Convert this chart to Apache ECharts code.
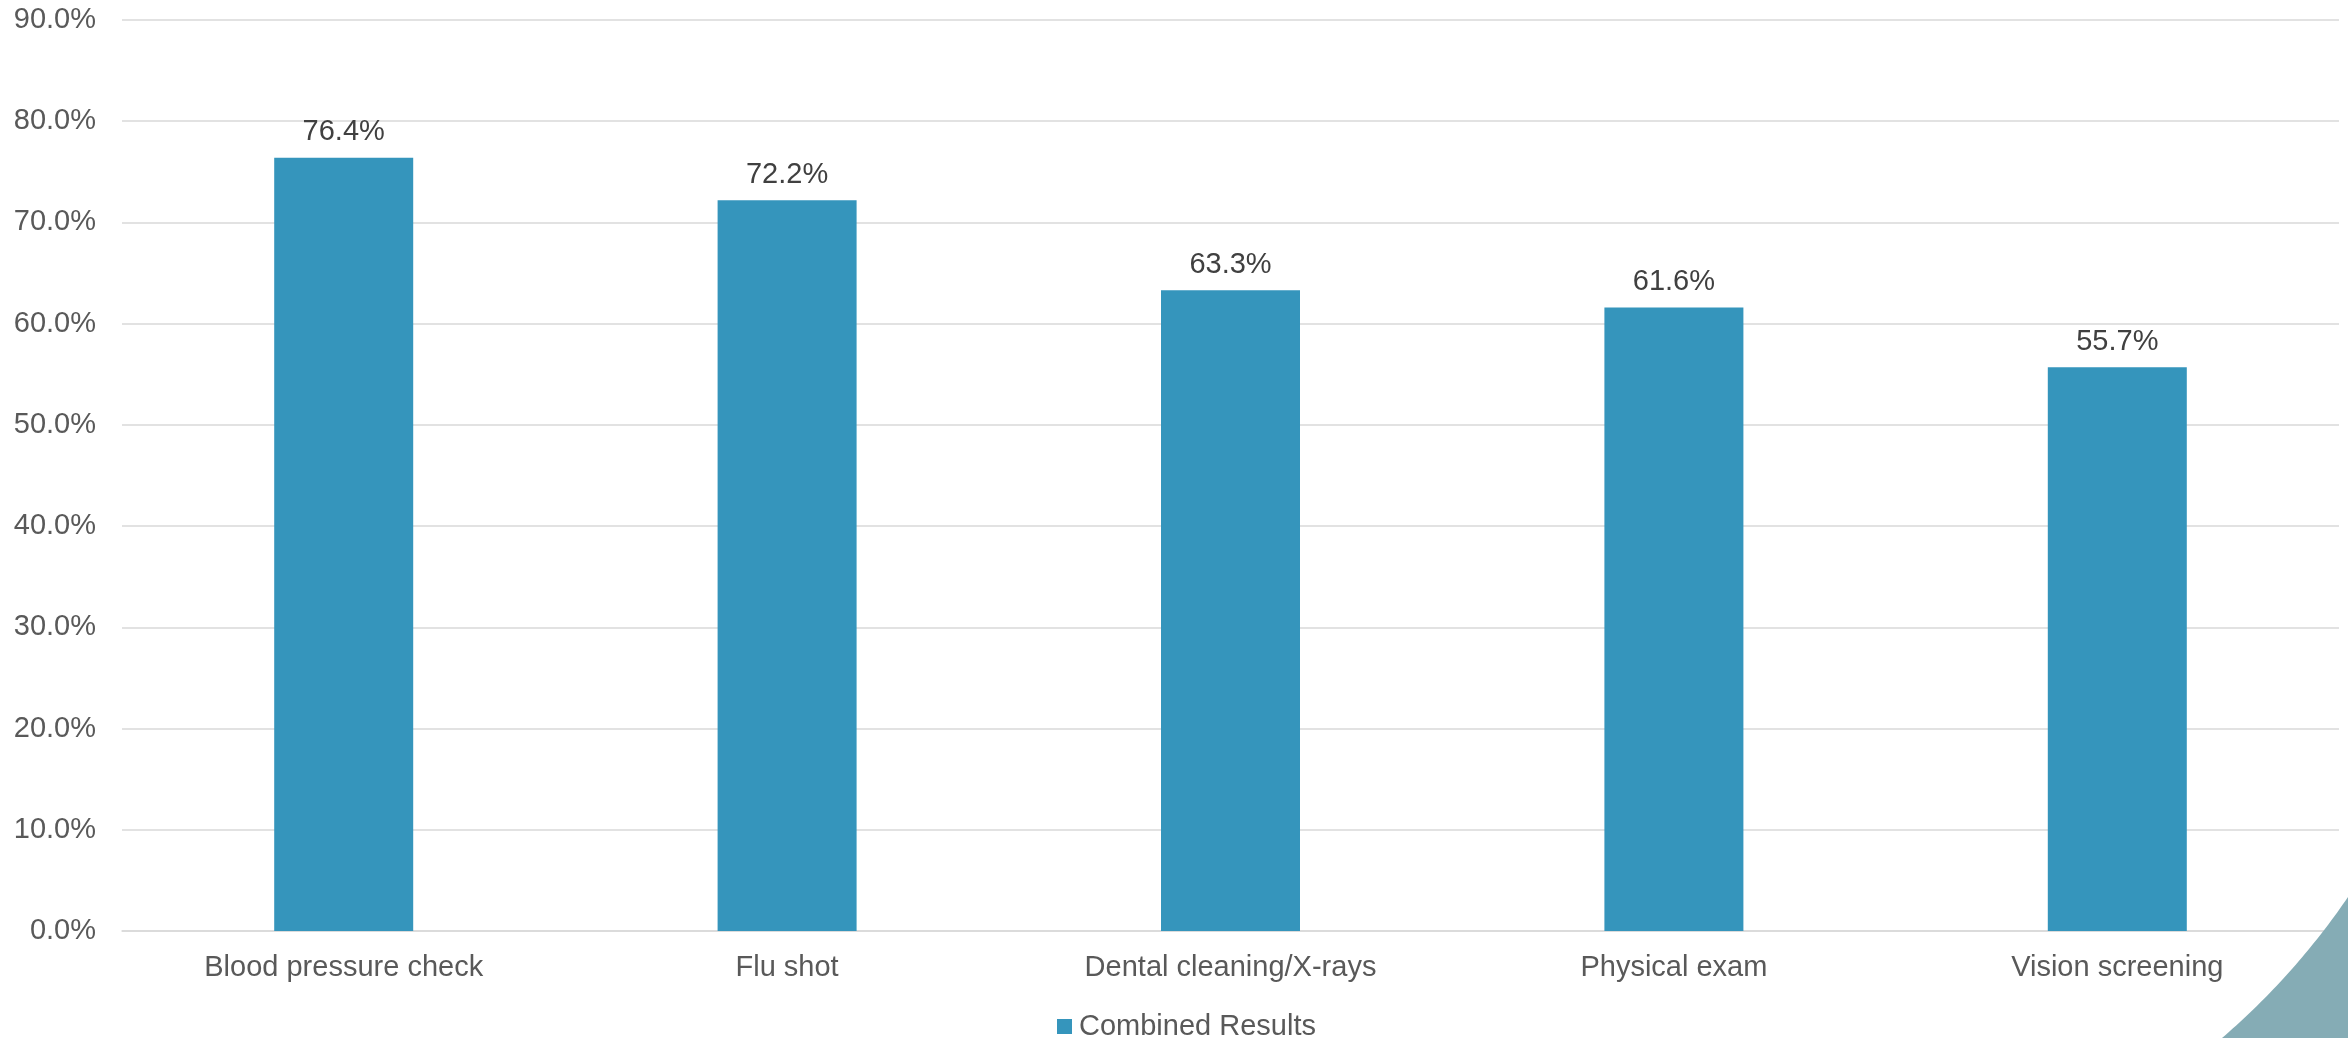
<!DOCTYPE html>
<html>
<head>
<meta charset="utf-8">
<script src="https://cdn.jsdelivr.net/npm/echarts@6/dist/echarts.min.js"></script>
<style>
html,body{margin:0;padding:0;background:#fff;}
#chart{width:2348px;height:1038px;}
</style>
</head>
<body>
<div id="chart"></div>
<script>
const categories = ['Blood pressure check', 'Flu shot', 'Dental cleaning/X-rays', 'Physical exam', 'Vision screening'];
const combinedResults = [76.4, 72.2, 63.3, 61.6, 55.7];
const seriesName = 'Combined Results';
const yMin = 0, yMax = 90, yStep = 10;

const FONT = '"Liberation Sans", Arial, sans-serif';

// decorative corner shape (quadratic curve outline)
function cornerShape() {
  const p0 = [2348, 897], c = [2294, 976], p1 = [2222, 1038];
  const pts = [];
  for (let i = 0; i <= 40; i++) {
    const t = i / 40, u = 1 - t;
    pts.push([u*u*p0[0] + 2*u*t*c[0] + t*t*p1[0], u*u*p0[1] + 2*u*t*c[1] + t*t*p1[1]]);
  }
  pts.push([2348, 1038]);
  return pts;
}

const chart = echarts.init(document.getElementById('chart'), null, {renderer: 'canvas'});
chart.setOption({
  animation: false,
  backgroundColor: '#ffffff',
  textStyle: {fontFamily: FONT},
  grid: {left: 122, right: 9, top: 20, bottom: 107, containLabel: false},
  legend: {
    data: [seriesName],
    left: 1052, top: 1007,
    icon: 'rect', itemWidth: 15, itemHeight: 15, itemGap: 10,
    textStyle: {fontSize: 29, color: '#595959', fontFamily: FONT, padding: [0, 0, 0, 2]}
  },
  xAxis: {
    type: 'category',
    data: categories,
    axisLine: {show: true, lineStyle: {color: '#d9d9d9', width: 1.5}},
    axisTick: {show: false},
    axisLabel: {fontSize: 29, color: '#595959', margin: 22, fontFamily: FONT, interval: 0}
  },
  yAxis: {
    type: 'value',
    min: yMin, max: yMax, interval: yStep,
    axisLine: {show: false},
    axisTick: {show: false},
    splitLine: {lineStyle: {color: '#d9d9d9', width: 1.5}},
    axisLabel: {
      fontSize: 29, color: '#595959', margin: 26, fontFamily: FONT,
      formatter: v => v.toFixed(1) + '%'
    }
  },
  series: [{
    name: seriesName,
    type: 'bar',
    data: combinedResults,
    barWidth: 139,
    itemStyle: {color: '#3595bc'},
    label: {
      show: true, position: 'top', distance: 11,
      fontSize: 29, color: '#404040', fontFamily: FONT,
      formatter: p => p.value.toFixed(1) + '%'
    }
  }],
  graphic: [{
    type: 'polygon',
    z: 100,
    shape: {points: cornerShape()},
    style: {fill: '#85acb5'}
  }]
});
</script>
</body>
</html>
